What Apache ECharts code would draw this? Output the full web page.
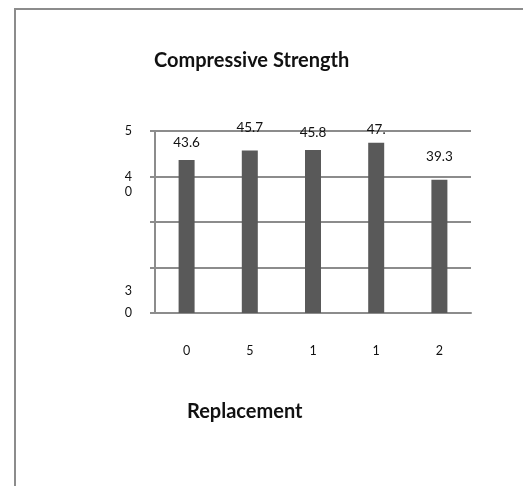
<!DOCTYPE html>
<html>
<head>
<meta charset="utf-8">
<script src="https://cdn.jsdelivr.net/npm/echarts@6/dist/echarts.min.js"></script>
<style>
html,body{margin:0;padding:0;background:#fff;}
#c{width:523px;height:486px;}
</style>
</head>
<body>
<div id="c"></div>
<script>
const categories = ['0', '5', '1', '1', '2'];
const strengthValues = [43.6, 45.7, 45.8, 47.4, 39.3];
const barLabels = ['43.6', '45.7', '45.8', '47.', '39.3'];
const yTickValues = [10, 20, 30, 40, 50];
const yTickLabels = ['3\n0', '', '', '4\n0', '5'];
const titleText = 'Compressive Strength';
const xTitleText = 'Replacement';

// label lift above each bar (style only)
const labelGap = [10, 16, 10, 6, 16];

const chart = echarts.init(document.getElementById('c'), null, {renderer: 'canvas'});
const FONT = 'Lato';
const GRAY = '#8c8c8c';

function yLabel(v) {
  const i = yTickValues.indexOf(v);
  const t = i >= 0 ? yTickLabels[i] : '';
  if (!t) return '';
  const parts = t.split('\n');
  if (v === 10) {
    return parts.map(p => '{b|' + p + '}').join('\n') + '\n{b| }';
  }
  if (parts.length > 1) {
    return '{a| }\n' + parts.map(p => '{a|' + p + '}').join('\n');
  }
  return '{a|' + parts[0] + '}';
}

const option = {
  backgroundColor: '#fff',
  animation: false,
  title: [
    {
      text: titleText, left: 154, top: 51, padding: 0,
      textStyle: {fontFamily: FONT, fontWeight: 'bold', fontSize: 20, color: '#111'}
    },
    {
      text: xTitleText, left: 187, top: 402, padding: 0,
      textStyle: {fontFamily: FONT, fontWeight: 'bold', fontSize: 20, color: '#111'}
    }
  ],
  graphic: [
    {
      type: 'rect', silent: true, z: 100,
      shape: {x: 15, y: 9, width: 700, height: 700},
      style: {fill: 'none', stroke: GRAY, lineWidth: 2}
    }
  ],
  grid: {left: 155, right: 52, top: 131, bottom: 173, containLabel: false},
  xAxis: {
    type: 'category',
    data: categories,
    axisLine: {show: true, lineStyle: {color: GRAY, width: 2}},
    axisTick: {show: false},
    axisLabel: {margin: 31, fontFamily: FONT, fontSize: 12.5, color: '#111'}
  },
  yAxis: {
    type: 'value',
    min: 10, max: 50, interval: 10,
    axisLine: {show: true, lineStyle: {color: GRAY, width: 2}},
    axisTick: {show: true, length: 5, lineStyle: {color: GRAY, width: 2}},
    splitLine: {show: true, lineStyle: {color: GRAY, width: 2}},
    axisLabel: {
      margin: 23, fontFamily: FONT, fontSize: 12.5, color: '#111',
      formatter: yLabel,
      rich: {
        a: {fontFamily: FONT, fontSize: 12.5, lineHeight: 15, color: '#111'},
        b: {fontFamily: FONT, fontSize: 12.5, lineHeight: 22, color: '#111'}
      }
    }
  },
  series: [{
    type: 'bar',
    barWidth: 16,
    itemStyle: {color: '#595959'},
    data: strengthValues.map((v, i) => ({
      value: v,
      label: {
        show: true, position: 'top', distance: labelGap[i],
        formatter: barLabels[i],
        fontFamily: FONT, fontSize: 13.5, color: '#111'
      }
    }))
  }]
};
chart.setOption(option);
</script>
</body>
</html>
